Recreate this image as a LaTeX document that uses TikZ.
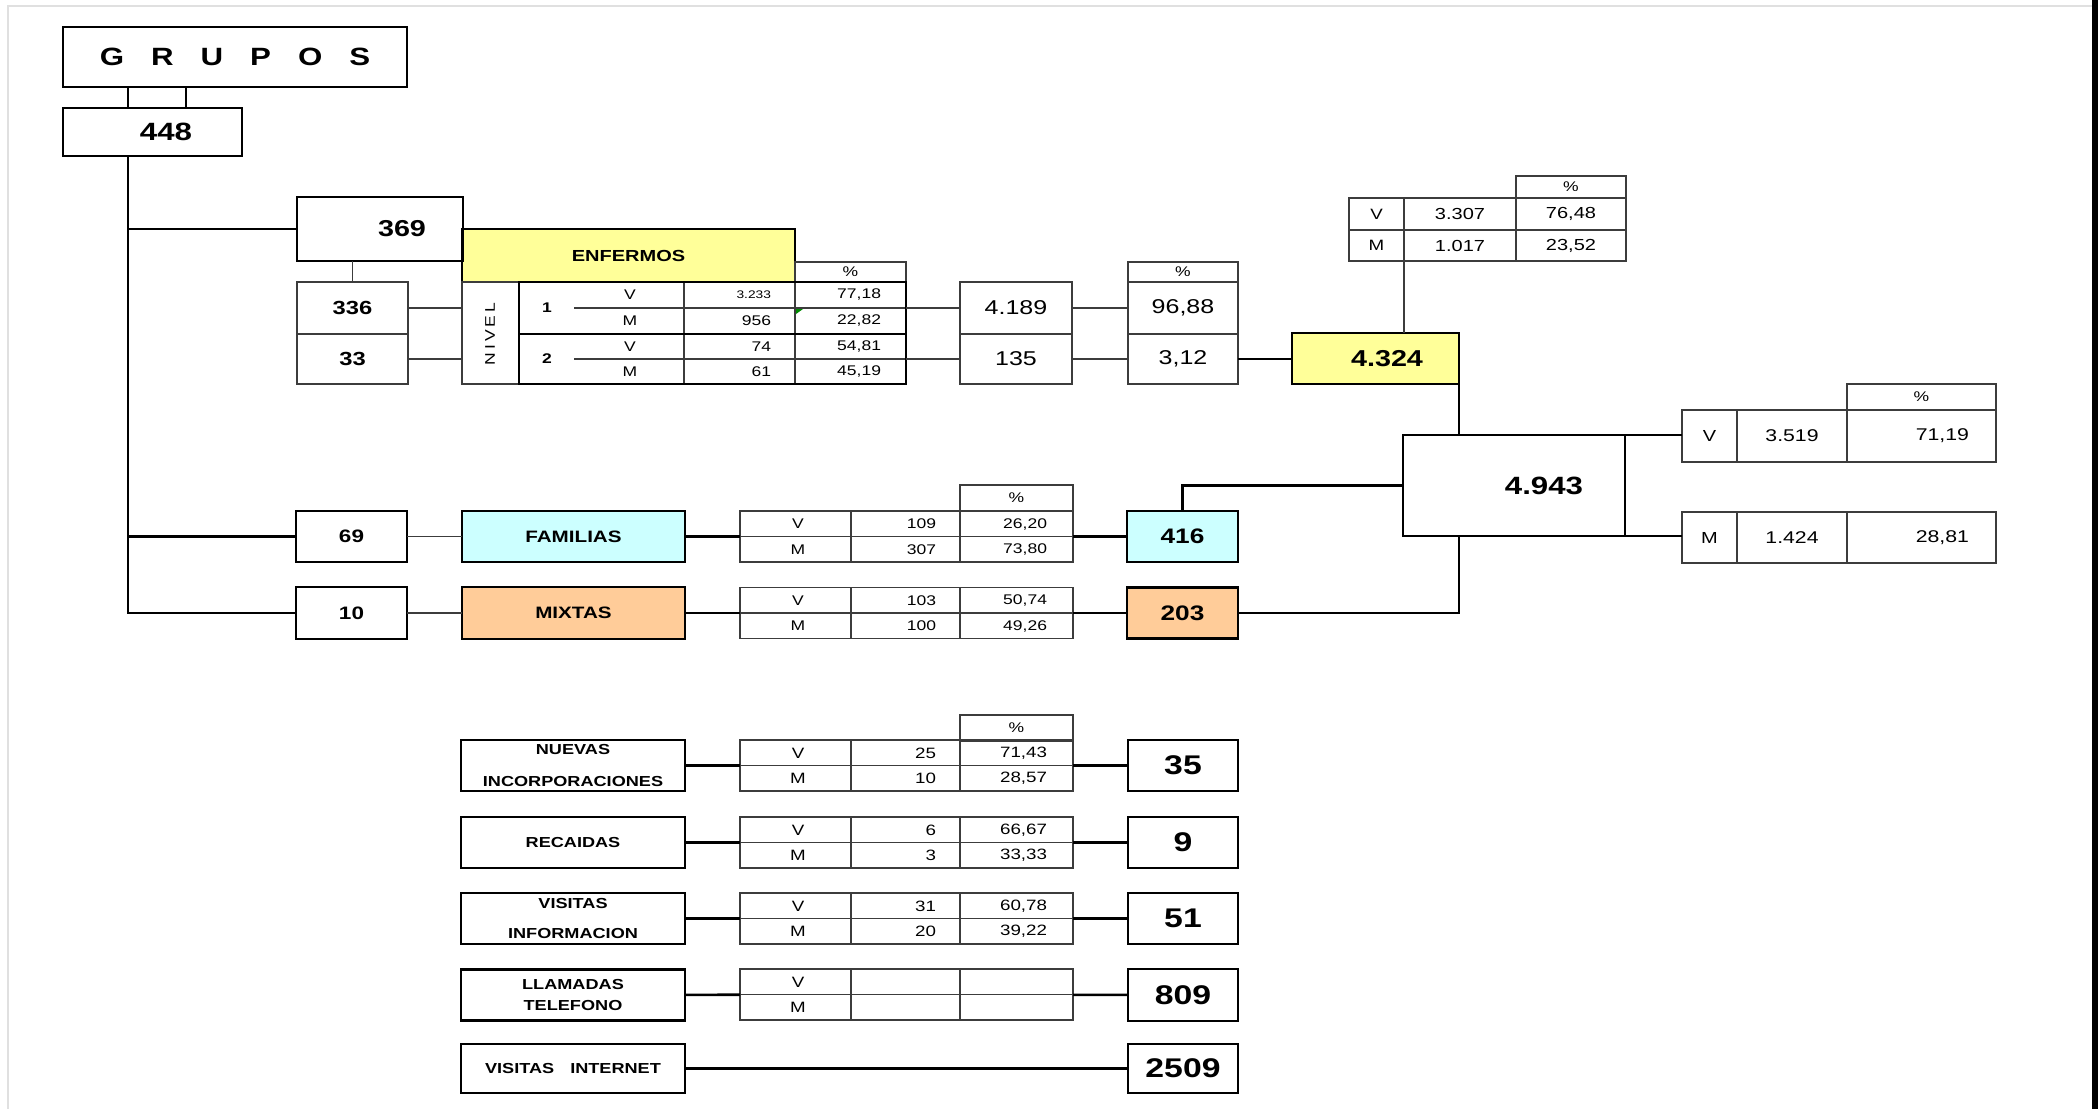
\documentclass[tikz,border=0pt]{standalone}
\usepackage{fontspec}
\setmainfont[FakeStretch=1.25]{Liberation Sans}
\usepackage{tikz}
\usetikzlibrary{calc, positioning}

\definecolor{enfyellow}{HTML}{FFFF99}
\definecolor{famcyan}{HTML}{CCFFFF}
\definecolor{mixorange}{HTML}{FFCC99}
\definecolor{gridgray}{HTML}{3C3C3C}

\newcommand\fs[1]{\fontsize{#1}{#1}\selectfont}

\tikzset{
  box/.style={draw, line width=2.6pt, inner sep=0pt, outer sep=0pt},
  cell/.style={draw=gridgray, line width=1.4pt, inner sep=0pt, outer sep=0pt},
  txt/.style={inner sep=0pt, outer sep=0pt},
  link/.style={line width=2.6pt},
  thinlink/.style={draw=gridgray, line width=1.4pt},
  gridline/.style={draw=gridgray, line width=1.4pt},
  tabtext/.style={font=\fs{14}}
}

% tabla V/M de dos filas: nombre, y superior, V n, V %, M n, M %
\newcommand\vmtab[6]{%
  \node[cell, minimum width=333, minimum height=51] (#1) at (906.5,#2+25.5) {};
  \draw[gridline] (740,#2+25.5) -- (1073,#2+25.5)
    (851,#2) -- (851,#2+51) (960,#2) -- (960,#2+51);
  \node[txt, tabtext] (#1-vl) at (798,#2+13) {V};
  \node[txt, tabtext] (#1-ml) at (798,#2+38.5) {M};
  \node[txt, tabtext, anchor=east] (#1-vn) at (936,#2+13) {#3};
  \node[txt, tabtext, anchor=east] (#1-vp) at (1047,#2+13) {#4};
  \node[txt, tabtext, anchor=east] (#1-mn) at (936,#2+38.5) {#5};
  \node[txt, tabtext, anchor=east] (#1-mp) at (1047,#2+38.5) {#6};
}

\begin{document}
\begin{tikzpicture}[x=1pt, y=-1pt]
\useasboundingbox (0,0) rectangle (2098,1109);
\fill[white] (0,0) rectangle (2098,1109);
\draw[black!12, line width=1.5pt] (8,1109) -- (8,6) -- (2092,6);
\fill[black] (2092,0) rectangle (2098,1109);

% grupos
\node[box, minimum width=344, minimum height=60, font=\fs{25}\bfseries] (grupos) at (235,57) {G\hskip27pt R\hskip27pt U\hskip27pt P\hskip27pt O\hskip27pt S};
\node[box, minimum width=179, minimum height=48, label={[txt, name=t448, font=\fs{25}\bfseries, xshift=13.5pt]center:448}] (n448) at (152.5,132) {};
\coordinate (trunk) at (128,613);
\coordinate (tie) at (186,100);
\draw[link] (grupos.south -| trunk) -- (n448.north -| trunk);
\draw[link] (grupos.south -| tie) -- (n448.north -| tie);

% enfermos
\node[box, fill=enfyellow, minimum width=333, minimum height=53, font=\fs{16}\bfseries] (enf) at (628.5,255.5) {ENFERMOS};
\node[box, minimum width=166, minimum height=64, label={[txt, name=t369, font=\fs{23}\bfseries, xshift=22pt]center:369}] (n369) at (380,229) {};
\node[cell, minimum width=111, minimum height=52, font=\fs{19}\bfseries] (n336) at (352.5,308) {336};
\node[cell, minimum width=111, minimum height=50, font=\fs{19}\bfseries] (n33) at (352.5,359) {33};
\node[cell, minimum width=57, minimum height=102] (nivel) at (490.5,333) {};
\node[txt, rotate=90, font=\fs{14}] (tnivel) at (490,334) {N\hskip3pt I\hskip3pt V\hskip3pt E\hskip3pt L};

\node[cell, minimum width=111, minimum height=20, font=\fs{14}] (levhdr) at (850.5,272) {\%};
\draw[gridline] (684,282) -- (684,384) (795,282) -- (795,384)
  (574,308) -- (906,308) (574,359) -- (906,359);
\node[box, minimum width=387, minimum height=52] (lev1) at (712.5,308) {};
\node[box, minimum width=387, minimum height=50] (lev2) at (712.5,359) {};
\node[txt, font=\fs{14}\bfseries] (lv1) at (547,308) {1};
\node[txt, font=\fs{14}\bfseries] (lv2) at (547,359) {2};
\node[txt, font=\fs{14}] (l1v) at (630,295) {V};
\node[txt, font=\fs{14}] (l1m) at (630,321) {M};
\node[txt, font=\fs{14}] (l2v) at (630,346.5) {V};
\node[txt, font=\fs{14}] (l2m) at (630,371.5) {M};
\node[txt, anchor=east, font=\fs{11}] (l1vn) at (771,295) {3.233};
\node[txt, anchor=east, font=\fs{14}] (l1mn) at (771,321) {956};
\node[txt, anchor=east, font=\fs{14}] (l2vn) at (771,346.5) {74};
\node[txt, anchor=east, font=\fs{14}] (l2mn) at (771,371.5) {61};
\node[txt, anchor=east, font=\fs{14}] (l1vp) at (881,295) {77,18};
\node[txt, anchor=east, font=\fs{14}] (l1mp) at (881,321) {22,82};
\node[txt, anchor=east, font=\fs{14}] (l2vp) at (881,346.5) {54,81};
\node[txt, anchor=east, font=\fs{14}] (l2mp) at (881,371.5) {45,19};
\fill[green!55!black] (796,309) -- (803,309) -- (796,314) -- cycle;

\node[cell, minimum width=112, minimum height=52, font=\fs{20}] (v4189) at (1016,308) {4.189};
\node[cell, minimum width=112, minimum height=50, font=\fs{20}] (v135) at (1016,359) {135};
\node[cell, minimum width=110, minimum height=20, font=\fs{14}] (pcthdr) at (1183,272) {\%};
\node[cell, minimum width=110, minimum height=52, font=\fs{20}] (p9688) at (1183,308) {96,88};
\node[cell, minimum width=110, minimum height=50, font=\fs{20}] (p312) at (1183,359) {3,12};
\node[box, fill=enfyellow, minimum width=167, minimum height=51, label={[txt, name=t4324, font=\fs{23}\bfseries, xshift=11.5pt]center:4.324}] (n4324) at (1375.5,358.5) {};

\draw[thinlink] (n369.south -| n336.north) -- (n336.north);
\draw[thinlink] (n336.east) -- (n336.east -| nivel.west);
\draw[thinlink] (n33.east) -- (n33.east -| nivel.west);
\draw[thinlink] (lev1.east) -- (v4189.west);
\draw[thinlink] (lev2.east) -- (v135.west);
\draw[thinlink] (v4189) -- (p9688);
\draw[thinlink] (v135) -- (p312);
\draw[link] (p312.east) -- (p312.east -| n4324.west);

% total enfermos V/M
\node[cell, minimum width=110, minimum height=22, font=\fs{14}] (tophdr) at (1571,187) {\%};
\node[cell, minimum width=55, minimum height=32, font=\fs{15}] (topvl) at (1376.5,214) {V};
\node[cell, minimum width=112, minimum height=32, font=\fs{16}] (topvn) at (1460,214) {3.307};
\node[cell, minimum width=110, minimum height=32, font=\fs{16}] (topvp) at (1571,214) {76,48};
\node[cell, minimum width=55, minimum height=31, font=\fs{15}] (topml) at (1376.5,245.5) {M};
\node[cell, minimum width=112, minimum height=31, font=\fs{16}] (topmn) at (1460,245.5) {1.017};
\node[cell, minimum width=110, minimum height=31, font=\fs{16}] (topmp) at (1571,245.5) {23,52};
\draw[thinlink] (topml.south east) -- (topml.south east |- n4324.north);

% total general
\node[box, minimum width=222, minimum height=101, label={[txt, name=t4943, font=\fs{25}\bfseries, xshift=30pt]center:4.943}] (n4943) at (1514,485.5) {};
\node[cell, minimum width=149, minimum height=26, font=\fs{14}] (rhdr) at (1921.5,397) {\%};
\node[cell, minimum width=55, minimum height=52, font=\fs{16}] (rvl) at (1709.5,436) {V};
\node[cell, minimum width=110, minimum height=52, font=\fs{17}] (rvn) at (1792,436) {3.519};
\node[cell, minimum width=149, minimum height=52] (rvp) at (1921.5,436) {};
\node[txt, anchor=east, font=\fs{17}] (rvpt) at (1969,436) {71,19};
\node[cell, minimum width=55, minimum height=51, font=\fs{16}] (rml) at (1709.5,537.5) {M};
\node[cell, minimum width=110, minimum height=51, font=\fs{17}] (rmn) at (1792,537.5) {1.424};
\node[cell, minimum width=149, minimum height=51] (rmp) at (1921.5,537.5) {};
\node[txt, anchor=east, font=\fs{17}] (rmpt) at (1969,537.5) {28,81};
\draw[link] (n4324.south east) -- (n4324.south east |- n4943.north);
\draw[link] (n4943.north east) -- (n4943.north east -| rvl.west);
\draw[link] (n4943.south east) -- (n4943.south east -| rml.west);

% familias y mixtas
\node[box, minimum width=111, minimum height=51, font=\fs{18}\bfseries] (n69) at (351.5,536.5) {69};
\node[box, minimum width=111, minimum height=52, font=\fs{18}\bfseries] (n10) at (351.5,613) {10};
\node[box, fill=famcyan, minimum width=223, minimum height=51, font=\fs{16.5}\bfseries] (fam) at (573.5,536.5) {FAMILIAS};
\node[box, fill=mixorange, minimum width=223, minimum height=52, font=\fs{16.5}\bfseries] (mix) at (573.5,613) {MIXTAS};
\node[cell, minimum width=113, minimum height=26, font=\fs{14}] (famhdr) at (1016.5,498) {\%};
\vmtab{famtab}{511}{109}{26,20}{307}{73,80}
\vmtab{mixtab}{587.5}{103}{50,74}{100}{49,26}
\node[box, fill=famcyan, minimum width=111, minimum height=51, font=\fs{21}\bfseries] (n416) at (1182.5,536.5) {416};
\node[box, fill=mixorange, minimum width=111, minimum height=51, font=\fs{21}\bfseries] (n203) at (1182.5,613) {203};

\draw[link] (n448.south -| trunk) -- (trunk) -- (n10.west);
\draw[link] (trunk |- n369.west) -- (n369.west);
\draw[link] (trunk |- n69.west) -- (n69.west);
\draw[thinlink] (n69) -- (fam);
\draw[thinlink] (n10) -- (mix);
\draw[link] (fam) -- (famtab);
\draw[link] (mix) -- (mixtab);
\draw[link] (famtab) -- (n416);
\draw[link] (mixtab) -- (n203);
\draw[link] (n416.north) |- (n4943.west);
\draw[link] (n203.east) -| (n4324.east |- n4943.south);

% otras actividades
\node[cell, minimum width=113, minimum height=26, font=\fs{14}] (bothdr) at (1016.5,728) {\%};
\begin{scope}[tabtext/.style={font=\fs{15}}]
\vmtab{tabnue}{740}{25}{71,43}{10}{28,57}
\vmtab{tabrec}{817}{6}{66,67}{3}{33,33}
\vmtab{tabinf}{893}{31}{60,78}{20}{39,22}
\vmtab{tabtel}{969}{}{}{}{}
\end{scope}
\node[box, minimum width=224, minimum height=51, align=center, font=\fs{14.5}\bfseries] (nuevas) at (573,765.5) {NUEVAS\\[17.5pt]INCORPORACIONES};
\node[box, minimum width=224, minimum height=51, font=\fs{14.5}\bfseries] (recaidas) at (573,842.5) {RECAIDAS};
\node[box, minimum width=224, minimum height=51, align=center, font=\fs{14.5}\bfseries] (visinfo) at (573,918.5) {VISITAS\\[15.5pt]INFORMACION};
\node[box, minimum width=224, minimum height=51, align=center, font=\fs{14.5}\bfseries] (llamadas) at (573,995) {LLAMADAS\\[6.5pt]TELEFONO};
\node[box, minimum width=224, minimum height=49, font=\fs{14.5}\bfseries] (visnet) at (573,1068.5) {VISITAS\hspace{16pt}INTERNET};
\node[box, minimum width=110, minimum height=51, font=\fs{27}\bfseries] (n35) at (1183,765.5) {35};
\node[box, minimum width=110, minimum height=51, font=\fs{27}\bfseries] (n9) at (1183,842.5) {9};
\node[box, minimum width=110, minimum height=51, font=\fs{27}\bfseries] (n51) at (1183,918.5) {51};
\node[box, minimum width=110, minimum height=52, font=\fs{27}\bfseries] (n809) at (1183,995) {809};
\node[box, minimum width=110, minimum height=49, font=\fs{27}\bfseries] (n2509) at (1183,1068.5) {2509};
\draw[link] (nuevas) -- (tabnue);
\draw[link] (tabnue) -- (n35);
\draw[link] (recaidas) -- (tabrec);
\draw[link] (tabrec) -- (n9);
\draw[link] (visinfo) -- (tabinf);
\draw[link] (tabinf) -- (n51);
\draw[link] (llamadas) -- (tabtel);
\draw[link] (tabtel) -- (n809);
\draw[link] (visnet) -- (n2509);
\end{tikzpicture}
\end{document}
